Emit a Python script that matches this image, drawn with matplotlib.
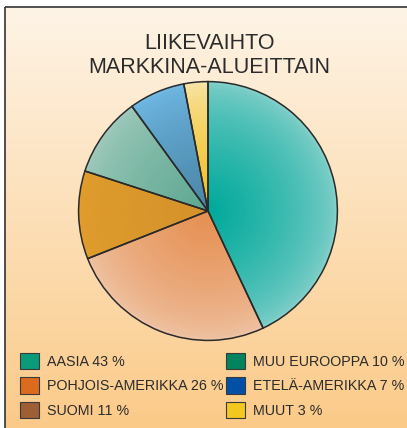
import numpy as np
import matplotlib.pyplot as plt
import matplotlib.colors as mcolors
from matplotlib.patches import Rectangle, Patch

plt.rcParams['font.family'] = ['Liberation Sans', 'DejaVu Sans']

title = "LIIKEVAIHTO\nMARKKINA-ALUEITTAIN"
regions = ["AASIA", "POHJOIS-AMERIKKA", "SUOMI", "MUU EUROOPPA", "ETELÄ-AMERIKKA", "MUUT"]
shares = [43, 26, 11, 10, 7, 3]

# wedge shading: centre colour, rim colour
centre_colors = ["#00a99b", "#e68f52", "#d4922a", "#5ea891", "#4a86a8", "#f0c01c"]
rim_colors = ["#80cfc9", "#eec2a2", "#e09c2c", "#9ec9bb", "#6fb8e4", "#f8e4a8"]
# legend swatch colours
legend_colors = ["#0a9b78", "#dd6b1e", "#9e5f35", "#00845e", "#0050a8", "#f2c81e"]

W, H = 407, 428
fig = plt.figure(figsize=(W / 100, H / 100), dpi=100)

# background gradient + frame
bg = fig.add_axes([0, 0, 1, 1])
bg.set_xlim(0, W)
bg.set_ylim(H, 0)
bg.axis("off")
grad = np.linspace(0, 1, 256).reshape(-1, 1)
cmap = mcolors.LinearSegmentedColormap.from_list("bg", ["#fef4e6", "#fbca88"])
bg.imshow(grad, cmap=cmap, extent=[5, W + 5, H + 5, 7], aspect="auto", zorder=0)
bg.add_patch(Rectangle((5, 7), W + 10, H + 10, fill=False, ec="#333333", lw=1.2, zorder=1))

fig.text(209 / W, 1 - 55.5 / H, title, ha="center", va="center", fontsize=15.5,
         color="#2b2b2b", linespacing=1.2)

# pie
cx, cy, r = 208, 211, 132
ax = fig.add_axes([(cx - r) / W, (H - cy - r) / H, 2 * r / W, 2 * r / H])
ax.set_aspect("equal")
ax.axis("off")

n_layers = 40
for i in range(n_layers):
    t = i / (n_layers - 1)
    rad = 1.0 - 0.98 * t
    cols = []
    for c0, c1 in zip(rim_colors, centre_colors):
        a = np.array(mcolors.to_rgb(c0))
        b = np.array(mcolors.to_rgb(c1))
        cols.append(a + (b - a) * t ** 0.7)
    ax.pie(shares, colors=cols, startangle=90, counterclock=False, radius=rad,
           wedgeprops=dict(linewidth=0))

ax.pie(shares, startangle=90, counterclock=False, radius=1.0,
       wedgeprops=dict(fill=False, edgecolor="#2a2a2a", linewidth=1.1))
ax.set_xlim(-1.02, 1.02)
ax.set_ylim(-1.02, 1.02)

handles = [Patch(facecolor=c, edgecolor="#3a3a3a", linewidth=0.8) for c in legend_colors]
labels = [f"{n} {v} %" for n, v in zip(regions, shares)]
fig.legend(handles, labels, loc="upper left", bbox_to_anchor=(20 / W, 1 - 353 / H),
           ncol=2, frameon=False, fontsize=10.3, handlelength=1.36, handleheight=1.36,
           handletextpad=0.5, labelspacing=0.58, columnspacing=0.2,
           borderaxespad=0, borderpad=0, labelcolor="#2b2b2b")

fig.savefig("out.png", dpi=100)
